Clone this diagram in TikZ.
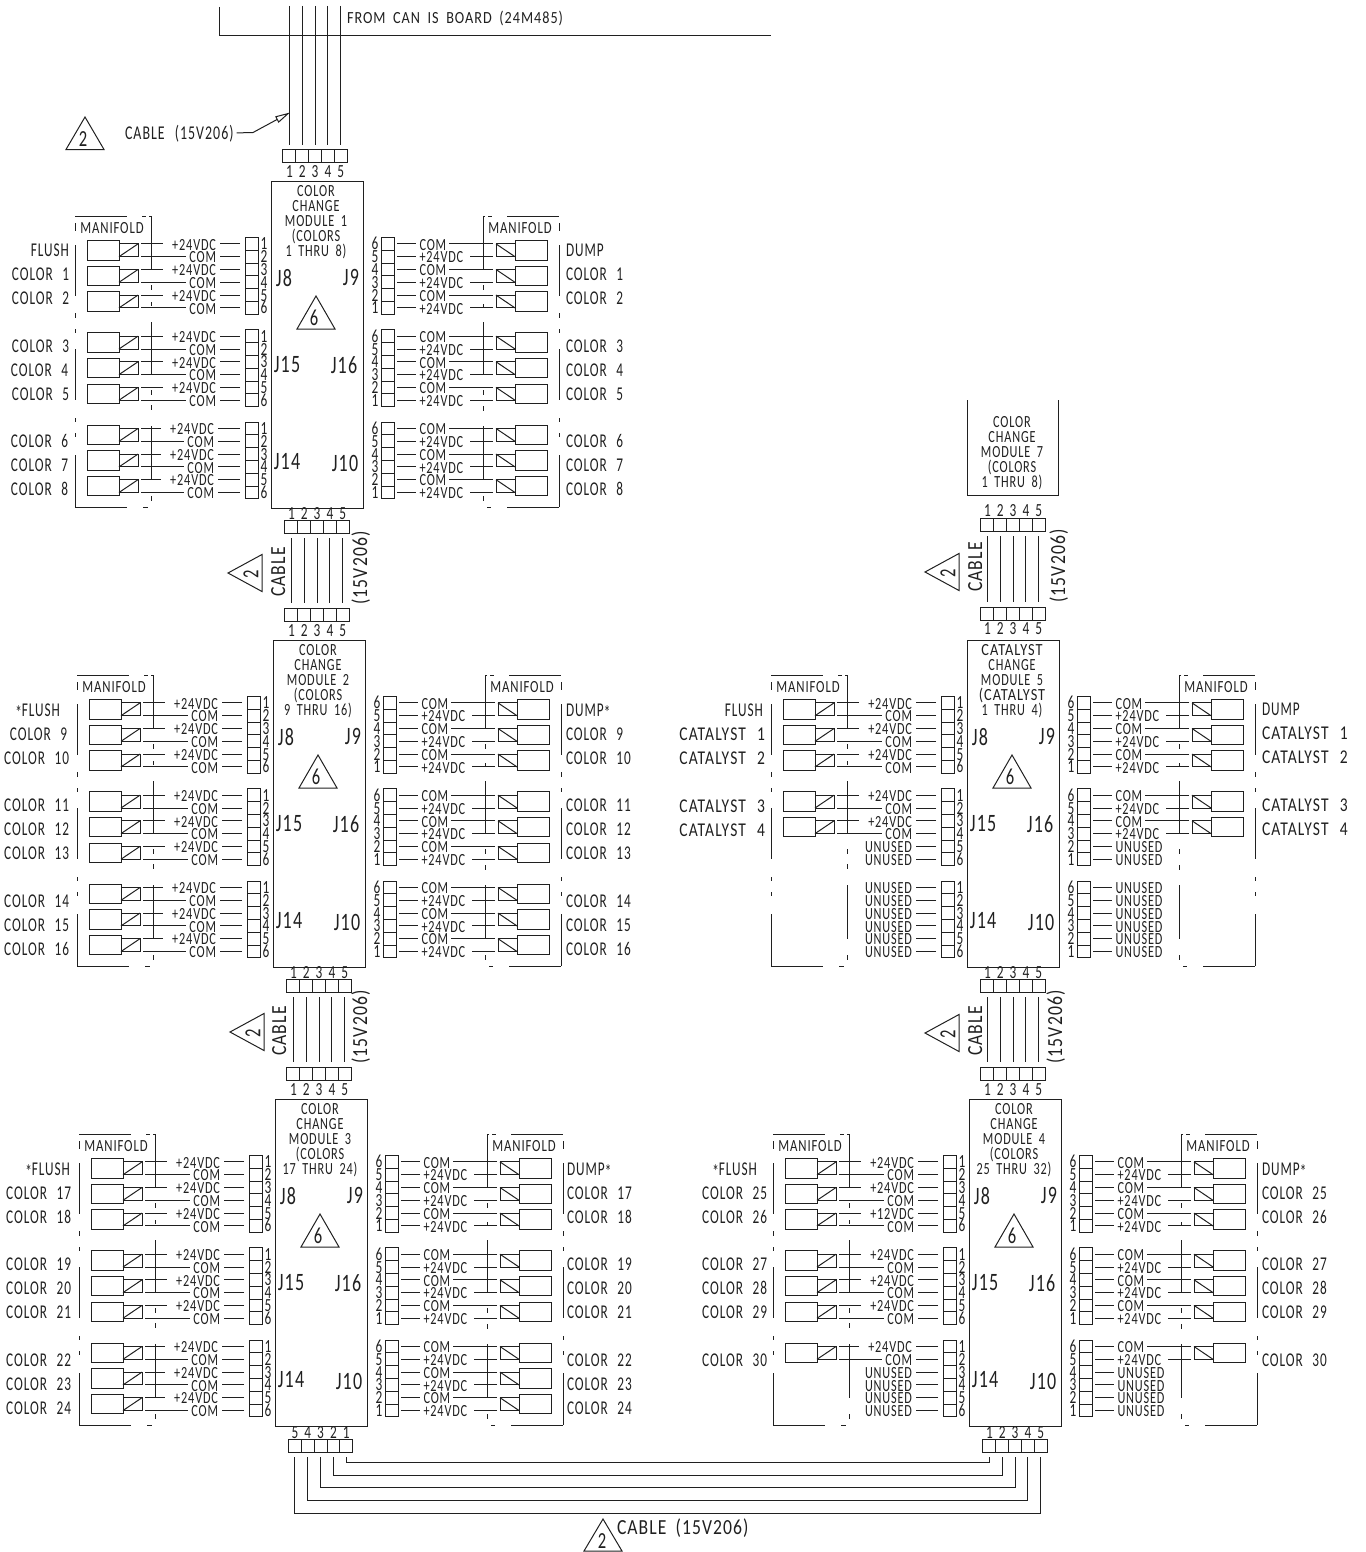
\documentclass[tikz,border=0pt]{standalone}
\usepackage{graphicx}
\usepackage{fontspec}
\usetikzlibrary{arrows.meta}
\newfontfamily\cad[FakeStretch=0.72,LetterSpace=5,WordSpace=1.8]{Carlito}
\newfontfamily\cadn[FakeStretch=0.68,LetterSpace=5,WordSpace=2.4]{Carlito}
\newfontfamily\cadw[FakeStretch=0.82,LetterSpace=5,WordSpace=1.8]{Carlito}
\definecolor{ink}{HTML}{202020}
\tikzset{
  ln/.style={line width=1pt,draw=ink,line cap=butt},
  txt/.style={inner sep=0pt,outer sep=0pt,text height=11pt,text depth=0pt,text=ink,font=\cad\fontsize{17}{17}\selectfont},
  lab/.style={inner sep=0pt,outer sep=0pt,text height=12.5pt,text depth=0pt,text=ink,font=\cadn\fontsize{19.5}{19.5}\selectfont},
  wide/.style={inner sep=0pt,outer sep=0pt,text height=14pt,text depth=0pt,text=ink,font=\cadw\fontsize{21.5}{21.5}\selectfont},
  pin/.style={inner sep=0pt,outer sep=0pt,text height=12pt,text depth=0pt,text=ink,font=\cad\fontsize{18.5}{18.5}\selectfont},
  jack/.style={inner sep=0pt,outer sep=0pt,text height=16pt,text depth=0pt,text=ink,font=\cad\fontsize{25}{25}\selectfont},
  tri/.style={inner sep=0pt,outer sep=0pt,text height=14.5pt,text depth=0pt,text=ink,font=\cad\fontsize{23}{23}\selectfont},
  cell/.style={ln,rectangle,inner sep=0pt,outer sep=0pt,minimum width=13pt,minimum height=12.8pt},
  bigsol/.style={ln,rectangle,inner sep=0pt,outer sep=0pt,minimum width=32pt,minimum height=19.5pt},
  smallsol/.style={ln,rectangle,inner sep=0pt,outer sep=0pt,minimum width=19pt,minimum height=12.8pt},
  modbox/.style={ln,rectangle,inner sep=0pt,outer sep=0pt,minimum width=92pt,minimum height=327pt},
}
\def\rowsL{+24VDC,COM,+24VDC,COM,+24VDC,COM}
\def\rowsLtwelve{+24VDC,COM,+24VDC,COM,+12VDC,COM}
\def\rowsLtwo{+24VDC,COM,+24VDC,COM,UNUSED,UNUSED}
\def\rowsLone{+24VDC,COM,UNUSED,UNUSED,UNUSED,UNUSED}
\def\rowsU{UNUSED,UNUSED,UNUSED,UNUSED,UNUSED,UNUSED}
\def\rowsR{COM,+24VDC,COM,+24VDC,COM,+24VDC}
\def\rowsRtwo{COM,+24VDC,COM,+24VDC,UNUSED,UNUSED}
\def\rowsRone{COM,+24VDC,UNUSED,UNUSED,UNUSED,UNUSED}
% left group: name, top y, solenoids, rows, text end x
\newcommand{\GrpL}[5]{%
  \pgfmathsetmacro\ry{#2+6.9}%
  \ifnum#3>0
    \pgfmathtruncatemacro\lastk{#3-1}%
    \foreach \k in {0,...,\lastk}{%
      \node[bigsol] (#1b\k) at (103,\ry+6.4+\k*25.6) {};
      \node[smallsol] (#1s\k) at (128.5,\ry+6.4+\k*25.6) {};
      \draw[ln] (#1s\k.south west) -- (#1s\k.north east);
    }%
  \fi
  \foreach \t [count=\i from 0] in #4 {%
    \node[cell] (#1c\i) at (251.5,\ry+\i*12.8) {};
    \node[txt,anchor=east] (#1t\i) at (#5,\ry+0.7+\i*12.8) {\t};
    \pgfmathtruncatemacro\pn{\i+1}%
    \node[pin] (#1n\i) at (264,\ry+\i*12.8) {\pn};
    \draw[ln,shorten <=5pt,shorten >=4pt] (#1c\i.west) -- (#1c\i.west -| #1t\i.east);
    \pgfmathtruncatemacro\k{floor(\i/2)}%
    \pgfmathtruncatemacro\c{mod(\i,2)}%
    \ifnum\k<#3
      \ifnum\c=0
        \draw[ln,shorten <=3pt,shorten >=9pt] (#1s\k.north east) -- (#1s\k.north east -| #1t\i.west);
      \else
        \draw[ln,shorten <=3pt,shorten >=3pt] (#1s\k.south east) -- (#1s\k.south east -| #1t\i.west);
      \fi
    \fi
  }%
}
% right group
\newcommand{\GrpR}[4]{%
  \pgfmathsetmacro\ry{#2+6.9}%
  \ifnum#3>0
    \pgfmathtruncatemacro\lastk{#3-1}%
    \foreach \k in {0,...,\lastk}{%
      \node[bigsol] (#1b\k) at (531,\ry+6.4+\k*25.6) {};
      \node[smallsol] (#1s\k) at (505.5,\ry+6.4+\k*25.6) {};
      \draw[ln] (#1s\k.north west) -- (#1s\k.south east);
    }%
  \fi
  \foreach \t [count=\i from 0] in #4 {%
    \node[cell] (#1c\i) at (387.5,\ry+\i*12.8) {};
    \node[txt,anchor=west] (#1t\i) at (419.5,\ry+0.7+\i*12.8) {\t};
    \pgfmathtruncatemacro\pn{6-\i}%
    \node[pin] (#1n\i) at (375,\ry+\i*12.8) {\pn};
    \draw[ln,shorten <=3pt,shorten >=4pt] (#1c\i.east) -- (#1c\i.east -| #1t\i.west);
    \pgfmathtruncatemacro\k{floor(\i/2)}%
    \pgfmathtruncatemacro\c{mod(\i,2)}%
    \ifnum\k<#3
      \ifnum\c=0
        \draw[ln,shorten <=3pt,shorten >=3pt] (#1s\k.north west) -- (#1s\k.north west -| #1t\i.east);
      \else
        \draw[ln,shorten <=3pt,shorten >=7pt] (#1s\k.south west) -- (#1s\k.south west -| #1t\i.east);
      \fi
    \fi
  }%
}
% module box, its texts, triangle, jacks and manifold outlines
\newcommand{\ModBody}[6]{%
  \node[modbox] (#1box) at (317,344.5) {};
  \node[txt] (#1la) at (316,191) {#2};
  \node[txt] (#1lb) at (316,206) {#3};
  \node[txt] (#1lc) at (316,221) {#4};
  \node[txt] (#1ld) at (316,236) {#5};
  \node[txt] (#1le) at (316,251) {#6};
  \node[jack] (#1ja) at (284,278) {J8};
  \node[jack] (#1jb) at (351,277) {J9};
  \node[jack] (#1jc) at (287,364) {J15};
  \node[jack] (#1jd) at (344,365) {J16};
  \node[jack] (#1je) at (287,461) {J14};
  \node[jack] (#1jf) at (345,463) {J10};
  \draw[ln] (316,296) -- (297,329) -- (335,329) -- cycle;
  \node[tri] (#1tri) at (314,318.5) {6};
  \node[txt] (#1mfl) at (112,228) {\scalebox{1.04}[1]{MANIFOLD}};
  \node[txt] (#1mfr) at (520,228) {\scalebox{1.04}[1]{MANIFOLD}};
  % left manifold
  \draw[ln] (75,223) -- (75,231);
  \draw[ln] (75,216) -- (127,216);
  \draw[ln] (142,216) -- (146,216);
  \draw[ln] (149,216) -- (151,216) -- (151,270);
  \foreach \a/\b in {245/296,313/318,329/333,349/400,418/422,433/437,455/507}{\draw[ln] (75,\a) -- (75,\b);}
  \foreach \a/\b in {285/290,302/306,322/374,390/395,405/410,426/480,496/501}{\draw[ln] (151,\a) -- (151,\b);}
  \draw[ln] (75,507) -- (127,507);
  \draw[ln] (143,507) -- (148,507);
  % right manifold
  \draw[ln] (559,223) -- (559,231);
  \draw[ln] (507,216) -- (559,216);
  \draw[ln] (488,216) -- (492,216);
  \draw[ln] (485,216) -- (483,216) -- (483,270);
  \foreach \a/\b in {245/296,313/318,329/333,349/400,418/422,433/437,455/507}{\draw[ln] (559,\a) -- (559,\b);}
  \foreach \a/\b in {285/290,304/308,322/374,390/395,406/411,426/480,496/501}{\draw[ln] (483,\a) -- (483,\b);}
  \draw[ln] (507,507) -- (559,507);
  \draw[ln] (487,507) -- (491,507);
}
% five-cell strip: name, left x, top y
\newcommand{\Strip}[3]{%
  \foreach \i in {1,...,5}{%
    \node[cell,minimum width=12.85pt,minimum height=13pt] (#1c\i) at (#2+6.4+\i*12.85-12.85,#3+6.5) {};
  }%
}
% pin numbers: strip, y, order
\newcommand{\Nums}[3]{%
  \foreach \i [count=\j] in {#3}{%
    \coordinate (#1y\j) at (0,#2);
    \node[pin] (#1n\j) at (#1c\j |- #1y\j) {\i};
  }%
}
% cable between two strips
\newcommand{\Cable}[2]{%
  \foreach \i in {1,...,5}{%
    \draw[ln,shorten <=5pt,shorten >=5pt] (#1c\i.south) -- (#2c\i.north);
  }%
}
% triangle pointing left, number rotated
\newcommand{\TriL}[3]{%
  \draw[ln] (#2,#3) -- (#2+34,#3-18.5) -- (#2+34,#3+18.5) -- cycle;
  \node[tri,rotate=90] (#1) at (#2+23,#3+1) {2};
}
\newcommand{\Lbl}[3]{% name, anchor, list
  \foreach \t/\x/\y [count=\c] in {#3}{%
    \node[lab,anchor=#2] (#1\c) at (\x,\y) {\t};
  }%
}
\newcommand{\lowast}{\raisebox{-3pt}{*}}
\newcommand{\widen}[1]{\scalebox{1.17}[1]{#1}}
\begin{document}
\begin{tikzpicture}[x=1pt,y=-1pt]
\useasboundingbox (0,0) rectangle (1365,1552);
% top frame
\draw[ln] (219,7) -- (219,36) -- (771,36);
\node[txt,anchor=west] (fromcan) at (347,18) {\scalebox{1.16}[1]{FROM CAN IS BOARD (24M485)}};
\Strip{topS}{283}{149.5}
\Nums{topS}{171}{1,2,3,4,5}
\foreach \i in {1,...,5}{%
  \coordinate (topy) at (0,6);
  \coordinate (topw\i) at (topSc\i |- topy);
  \draw[ln,shorten >=5pt] (topw\i) -- (topSc\i.north);
}
\draw[ln] (85,117) -- (66,149.5) -- (104,149.5) -- cycle;
\node[tri] (tria) at (83,139) {2};
\node[lab,anchor=west] (cabtop) at (125,133) {\scalebox{1.05}[1]{CABLE (15V206)}};
\coordinate (kneetop) at (253,132.5);
\coordinate (tiptop) at (290,112.5);
\draw[ln,shorten <=3pt,-{Stealth[open,length=15pt,width=7pt,inset=0pt]}] (cabtop.east) -- (kneetop) -- (tiptop);

% module 1
\begin{scope}
  \ModBody{ma}{COLOR}{CHANGE}{MODULE 1}{(COLORS}{1 THRU 8)}
  \GrpL{maLa}{237}{3}{\rowsL}{216}
  \GrpL{maLb}{329.3}{3}{\rowsL}{216}
  \GrpL{maLc}{421.6}{3}{\rowsL}{214}
  \GrpR{maRa}{237}{3}{\rowsR}
  \GrpR{maRb}{329.3}{3}{\rowsR}
  \GrpR{maRc}{421.6}{3}{\rowsR}
\end{scope}
\Lbl{maL}{east}{FLUSH/69/250,COLOR 1/69/274,COLOR 2/69/298,COLOR 3/69/346,COLOR 4/68/370,COLOR 5/69/394,COLOR 6/68/441,COLOR 7/68/465,COLOR 8/68/489}
\Lbl{maR}{west}{DUMP/566/250,COLOR 1/566/274,COLOR 2/566/298,COLOR 3/566/346,COLOR 4/566/370,COLOR 5/566/394,COLOR 6/566/441,COLOR 7/566/465,COLOR 8/566/489}

% module 2
\begin{scope}[shift={(2,459)}]
  \ModBody{mb}{COLOR}{CHANGE}{MODULE 2}{(COLORS}{9 THRU 16)}
  \GrpL{mbLa}{237}{3}{\rowsL}{216}
  \GrpL{mbLb}{329.3}{3}{\rowsL}{216}
  \GrpL{mbLc}{421.6}{3}{\rowsL}{214}
  \GrpR{mbRa}{237}{3}{\rowsR}
  \GrpR{mbRb}{329.3}{3}{\rowsR}
  \GrpR{mbRc}{421.6}{3}{\rowsR}
\end{scope}
\Lbl{mbL}{east}{\lowast FLUSH/60/710,COLOR 9/67/734,COLOR 10/69/758,COLOR 11/69/805,COLOR 12/69/829,COLOR 13/69/853,COLOR 14/69/901,COLOR 15/69/925,COLOR 16/69/949}
\Lbl{mbR}{west}{DUMP\lowast/566/710,COLOR 9/566/734,COLOR 10/566/758,COLOR 11/566/805,COLOR 12/566/829,COLOR 13/566/853,COLOR 14/566/901,COLOR 15/566/925,COLOR 16/566/949}

% module 3
\begin{scope}[shift={(4,918)}]
  \ModBody{mc}{COLOR}{CHANGE}{MODULE 3}{(COLORS}{17 THRU 24)}
  \GrpL{mcLa}{237}{3}{\rowsL}{216}
  \GrpL{mcLb}{329.3}{3}{\rowsL}{216}
  \GrpL{mcLc}{421.6}{3}{\rowsL}{214}
  \GrpR{mcRa}{237}{3}{\rowsR}
  \GrpR{mcRb}{329.3}{3}{\rowsR}
  \GrpR{mcRc}{421.6}{3}{\rowsR}
\end{scope}
\Lbl{mcL}{east}{\lowast FLUSH/70/1169,COLOR 17/71/1193,COLOR 18/71/1217,COLOR 19/71/1264,COLOR 20/71/1288,COLOR 21/71/1312,COLOR 22/71/1360,COLOR 23/71/1384,COLOR 24/71/1408}
\Lbl{mcR}{west}{DUMP\lowast/567/1169,COLOR 17/567/1193,COLOR 18/567/1217,COLOR 19/567/1264,COLOR 20/567/1288,COLOR 21/567/1312,COLOR 22/567/1360,COLOR 23/567/1384,COLOR 24/567/1408}

% module 4
\begin{scope}[shift={(698,918)}]
  \ModBody{md}{COLOR}{CHANGE}{MODULE 4}{(COLORS}{25 THRU 32)}
  \GrpL{mdLa}{237}{3}{\rowsLtwelve}{216}
  \GrpL{mdLb}{329.3}{3}{\rowsL}{216}
  \GrpL{mdLc}{421.6}{1}{\rowsLone}{214}
  \GrpR{mdRa}{237}{3}{\rowsR}
  \GrpR{mdRb}{329.3}{3}{\rowsR}
  \GrpR{mdRc}{421.6}{1}{\rowsRone}
\end{scope}
\Lbl{mdL}{east}{\lowast FLUSH/757/1169,COLOR 25/767/1193,COLOR 26/767/1217,COLOR 27/767/1264,COLOR 28/767/1288,COLOR 29/767/1312,COLOR 30/767/1360}
\Lbl{mdR}{west}{DUMP\lowast/1262/1169,COLOR 25/1262/1193,COLOR 26/1262/1217,COLOR 27/1262/1264,COLOR 28/1262/1288,COLOR 29/1262/1312,COLOR 30/1262/1360}

% module 5
\begin{scope}[shift={(696,459)}]
  \ModBody{me}{\widen{CATALYST}}{CHANGE}{MODULE 5}{\widen{(CATALYST}}{1 THRU 4)}
  \GrpL{meLa}{237}{3}{\rowsL}{216}
  \GrpL{meLb}{329.3}{2}{\rowsLtwo}{216}
  \GrpL{meLc}{421.6}{0}{\rowsU}{216}
  \GrpR{meRa}{237}{3}{\rowsR}
  \GrpR{meRb}{329.3}{2}{\rowsRtwo}
  \GrpR{meRc}{421.6}{0}{\rowsU}
\end{scope}
\Lbl{meL}{east}{FLUSH/763/710,\widen{CATALYST 1}/765/734,\widen{CATALYST 2}/765/758,\widen{CATALYST 3}/765/806,\widen{CATALYST 4}/765/830}
\Lbl{meR}{west}{DUMP/1262/709,\widen{CATALYST 1}/1262/733,\widen{CATALYST 2}/1262/757,\widen{CATALYST 3}/1262/805,\widen{CATALYST 4}/1262/829}

% module 7, open at the top
\draw[ln] (967,400) -- (967,495) -- (1058,495) -- (1058,400);
\node[txt] (mfa) at (1012,422) {COLOR};
\node[txt] (mfb) at (1012,437) {CHANGE};
\node[txt] (mfc) at (1012,452) {MODULE 7};
\node[txt] (mfd) at (1012,467) {(COLORS};
\node[txt] (mfe) at (1012,482) {1 THRU 8)};

% cables between modules
\Strip{sa}{285}{520} \Strip{sb}{285}{608}
\Nums{sa}{513}{1,2,3,4,5} \Nums{sb}{630}{1,2,3,4,5} \Cable{sa}{sb}
\TriL{tb}{228}{573}
\node[wide,rotate=90] (cb) at (278,572) {CABLE};
\node[wide,rotate=90] (cbn) at (360,568) {(15V206)};

\Strip{sc}{287}{979} \Strip{sd}{287}{1067}
\Nums{sc}{972}{1,2,3,4,5} \Nums{sd}{1089}{1,2,3,4,5} \Cable{sc}{sd}
\TriL{tc}{230}{1032}
\node[wide,rotate=90] (cc) at (279,1031) {CABLE};
\node[wide,rotate=90] (ccn) at (360,1027) {(15V206)};

\Strip{se}{981}{518} \Strip{sf}{981}{607}
\Nums{se}{510}{1,2,3,4,5} \Nums{sf}{628}{1,2,3,4,5} \Cable{se}{sf}
\TriL{td}{925}{572}
\node[wide,rotate=90] (cd) at (975,567) {CABLE};
\node[wide,rotate=90] (cdn) at (1058,566) {(15V206)};

\Strip{sg}{981}{979} \Strip{sh}{981}{1067}
\Nums{sg}{972}{1,2,3,4,5} \Nums{sh}{1089}{1,2,3,4,5} \Cable{sg}{sh}
\TriL{te}{925}{1033}
\node[wide,rotate=90] (ce) at (975,1031) {CABLE};
\node[wide,rotate=90] (cen) at (1055,1027) {(15V206)};

% bottom cable
\Strip{si}{288.5}{1439} \Strip{sj}{983}{1439}
\Nums{si}{1432}{5,4,3,2,1} \Nums{sj}{1432}{1,2,3,4,5}
\foreach \u/\v/\h in {5/1/1462,4/2/1475,3/3/1487.5,2/4/1500.5,1/5/1513}{%
  \coordinate (ybot\v) at (0,\h);
  \draw[ln,shorten <=5pt,shorten >=5pt] (sic\u.south) -- (sic\u.south |- ybot\v) -- (sjc\v.south |- ybot\v) -- (sjc\v.south);
}
\draw[ln] (603,1519) -- (584,1551) -- (622,1551) -- cycle;
\node[tri] (trib) at (602,1541) {2};
\node[wide,anchor=west] (cabbot) at (617,1527) {CABLE (15V206)};
\end{tikzpicture}
\end{document}
